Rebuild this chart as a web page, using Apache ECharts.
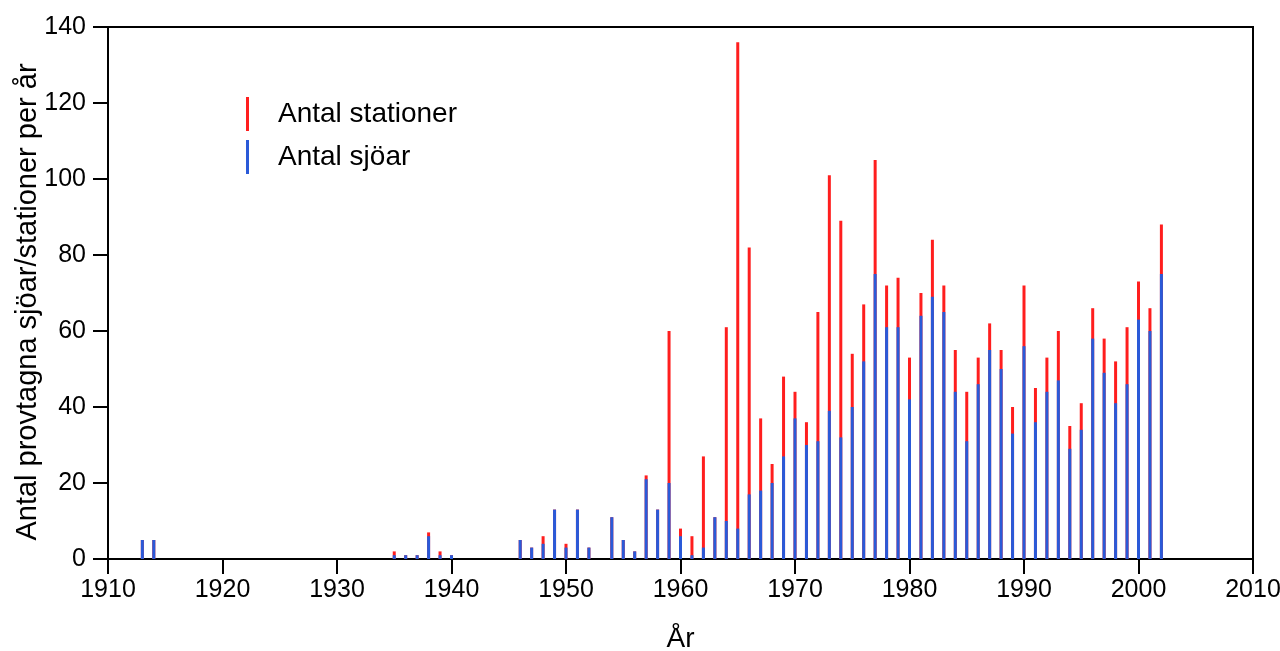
<!DOCTYPE html>
<html>
<head>
<meta charset="utf-8">
<script src="https://cdn.jsdelivr.net/npm/echarts@6/dist/echarts.min.js"></script>
<style>
html,body{margin:0;padding:0;background:#fff;}
#chart{width:1280px;height:651px;}
</style>
</head>
<body>
<div id="chart"></div>
<script>
const years = [1913,1914,1935,1936,1937,1938,1939,1940,1946,1947,1948,1949,1950,1951,1952,1954,1955,1956,1957,1958,1959,1960,1961,1962,1963,1964,1965,1966,1967,1968,1969,1970,1971,1972,1973,1974,1975,1976,1977,1978,1979,1980,1981,1982,1983,1984,1985,1986,1987,1988,1989,1990,1991,1992,1993,1994,1995,1996,1997,1998,1999,2000,2001,2002];
const stationer = [5,5,2,1,1,7,2,1,5,3,6,13,4,13,3,11,5,2,22,13,60,8,6,27,11,61,136,82,37,25,48,44,36,65,101,89,54,67,105,72,74,53,70,84,72,55,44,53,62,55,40,72,45,53,60,35,41,66,58,52,61,73,66,88];
const sjoar = [5,5,1,1,1,6,1,1,5,3,4,13,3,13,3,11,5,2,21,13,20,6,1,3,11,10,8,17,18,20,27,37,30,31,39,32,40,52,75,61,61,42,64,69,65,44,31,46,55,50,33,56,36,44,47,29,34,58,49,41,46,63,60,75];
const xTicks = [1910,1920,1930,1940,1950,1960,1970,1980,1990,2000,2010];
const yTicks = [0,20,40,60,80,100,120,140];

const FONT = '"Liberation Sans",Arial,sans-serif';
const chart = echarts.init(document.getElementById('chart'));
chart.setOption({
  animation:false,
  backgroundColor:'#fff',
  grid:{left:108,right:27,top:27,bottom:92,containLabel:false,outerBoundsMode:'none',
        show:true,borderColor:'#000',borderWidth:2,backgroundColor:'transparent'},
  legend:{
    orient:'vertical', left:241, top:92, itemGap:9,
    itemWidth:3, itemHeight:34, icon:'rect',
    textStyle:{fontFamily:FONT,fontSize:28,color:'#000',padding:[0,0,0,24]},
    data:['Antal stationer','Antal sjöar']
  },
  xAxis:{
    type:'value', min:xTicks[0], max:xTicks[xTicks.length-1], interval:10,
    name:'År', nameLocation:'middle', nameGap:66, nameMoveOverlap:false,
    nameTextStyle:{fontFamily:FONT,fontSize:28,color:'#000'},
    axisLine:{show:true,onZero:false,lineStyle:{color:'#000',width:2}},
    axisTick:{show:true,length:15,inside:false,lineStyle:{color:'#000',width:2}},
    axisLabel:{fontFamily:FONT,fontSize:25,color:'#000',margin:19,formatter:v=>String(v)},
    splitLine:{show:false}
  },
  yAxis:{
    type:'value', min:0, max:yTicks[yTicks.length-1], interval:20,
    name:'Antal provtagna sjöar/stationer per år', nameLocation:'middle', nameGap:66, nameMoveOverlap:false,
    nameTextStyle:{fontFamily:FONT,fontSize:29,color:'#000',padding:[0,18,0,0]},
    axisLine:{show:true,lineStyle:{color:'#000',width:2}},
    axisTick:{show:true,length:15,inside:false,lineStyle:{color:'#000',width:2}},
    axisLabel:{fontFamily:FONT,fontSize:25,color:'#000',margin:22},
    splitLine:{show:false}
  },
  series:[
    {name:'Antal stationer',type:'bar',barWidth:3,barGap:'-100%',
     itemStyle:{color:'#ff1e1e'},
     data:years.map((y,i)=>[y,stationer[i]])},
    {name:'Antal sjöar',type:'bar',barWidth:3,barGap:'-100%',
     itemStyle:{color:'#2a5ad8'},
     data:years.map((y,i)=>[y,sjoar[i]])}
  ]
});
</script>
</body>
</html>
